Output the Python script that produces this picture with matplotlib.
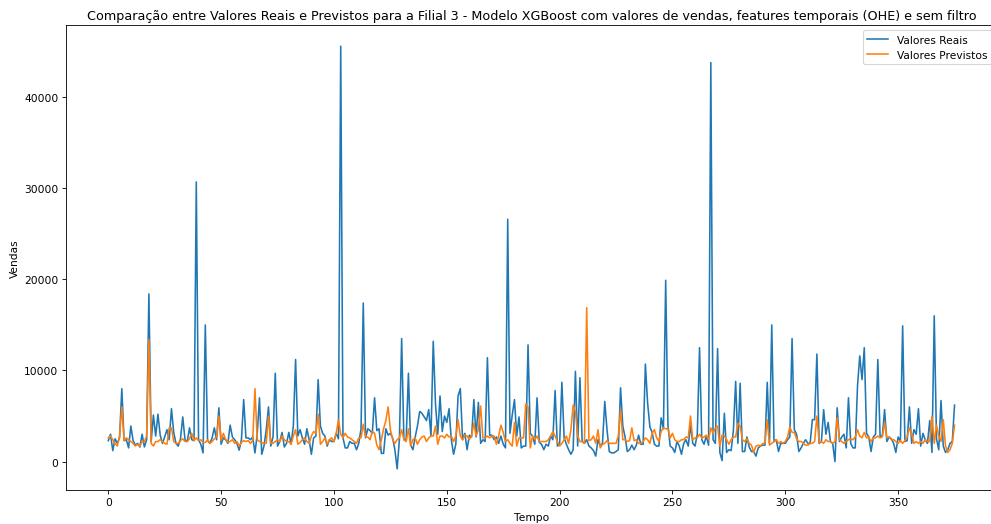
import matplotlib
matplotlib.use("Agg")
import matplotlib.pyplot as plt

# valores reais (vendas) - filial 3
valores_reais = [
    2300, 3000, 1200, 2500, 2000, 2600, 8000, 2300, 2400, 1500,
    3900, 2300, 1800, 2000, 1600, 3000, 1600, 2400, 18400, 2200,
    5100, 2800, 5200, 2900, 2000, 2700, 3500, 2400, 5800, 3200,
    2000, 1700, 2500, 4900, 2400, 2200, 3700, 2400, 2300, 30700,
    2400, 1900, 950, 15000, 2300, 2000, 2600, 3700, 2400, 5900,
    1900, 2600, 2400, 2000, 4000, 2700, 2400, 2000, 1250, 2400,
    6800, 2600, 2600, 2400, 2700, 950, 3000, 7000, 800, 1700,
    3500, 6000, 1700, 2700, 9700, 1700, 2200, 3200, 1600, 2000,
    3200, 1900, 3900, 11200, 2800, 3500, 2600, 1900, 3600, 2400,
    800, 2600, 2800, 9000, 3900, 3100, 2800, 1700, 2400, 2200,
    2200, 3100, 2500, 45600, 2600, 1500, 1500, 2200, 2000, 2000,
    1300, 2000, 3600, 17400, 2600, 3600, 3400, 3100, 7000, 3400,
    3600, 900, 900, 3600, 2900, 3100, 2600, 1300, -800, 2400,
    13500, 2400, 2400, 9700, 1800, 1300, 2700, 3900, 5500, 5300,
    4900, 4500, 5700, 2800, 13200, 6300, 3000, 7200, 3300, 5000,
    4300, 5800, 2400, 800, 1900, 7200, 8000, 2400, 3100, 1300,
    2900, 2700, 6800, 2700, 6500, 2000, 2400, 2200, 11400, 2900,
    2900, 2400, 2700, 2000, 2800, 1900, 1500, 26600, 3100, 5100,
    6800, 2800, 4900, 1500, 1700, 1700, 12800, 3100, 2800, 1900,
    7000, 2100, 1900, 1300, 1900, 1700, 2800, 2400, 7800, 1700,
    1900, 8700, 2600, 1900, 1300, 800, 1300, 9900, 1700, 9200,
    2200, 2000, 2400, 1700, 1500, 1200, 600, 2400, 1700, 2000,
    6600, 3500, 1100, 950, 950, 1100, 1300, 8100, 3900, 2700,
    1100, 1300, 1800, 1300, 1800, 2900, 1900, 1900, 10700, 6400,
    3800, 3200, 1900, 1700, 1700, 4800, 3600, 19900, 4000, 1700,
    1500, 1000, 2200, 1700, 800, 2000, 2400, 1700, 4000, 2000,
    1700, 3000, 12500, 2400, 1900, 2800, 1800, 43800, 2400, 2000,
    12400, 1000, 100, 5300, 1000, 1300, 1200, 3400, 8800, 2000,
    8600, 1100, 1100, 2700, 1600, 1100, 1100, 600, 1500, 1700,
    1800, 1800, 8700, 2000, 15000, 2200, 2400, 1100, 2000, 2000,
    2000, 2400, 2700, 13500, 3500, 3000, 1100, 1500, 2000, 2400,
    2000, 2000, 4600, 4600, 11800, 2000, 2200, 5700, 3000, 4300,
    2200, 2000, 0, 5900, 2200, 2700, 3000, 1500, 7000, 2000,
    1500, 1500, 8300, 11600, 9000, 12500, 3100, 2700, 1100, 2700,
    3000, 11200, 2800, 2800, 5700, 2200, 2700, 2500, 2000, 1000,
    2700, 2200, 14900, 2200, 2300, 6000, 2000, 3500, 3000, 5800,
    1700, 3100, 2400, 2000, 4500, 1000, 16000, 2500, 1300, 6700,
    1700, 1000, 1300, 2000, 2200, 6200,
]

# valores previstos pelo modelo XGBoost
valores_previstos = [
    2600, 2800, 2400, 2000, 1700, 2800, 6000, 2300, 2600, 2400,
    2200, 2000, 1700, 1900, 1700, 2200, 2200, 2800, 13400, 2000,
    1700, 2200, 2200, 2400, 2200, 2000, 1900, 3700, 3700, 2200,
    2000, 2000, 2300, 2500, 2200, 2200, 2500, 3100, 2300, 2600,
    2300, 2400, 2100, 2100, 2400, 2000, 2200, 2500, 2700, 5000,
    2300, 3100, 2400, 2100, 2200, 2400, 2000, 2200, 1700, 2100,
    2300, 2200, 2300, 2000, 2300, 8000, 2400, 2200, 2100, 2000,
    2000, 5000, 2000, 2000, 2200, 2400, 2200, 2800, 2400, 2200,
    2200, 1900, 2800, 3500, 1900, 2100, 2400, 2600, 2200, 2000,
    2800, 3300, 3100, 5200, 1900, 2200, 2600, 1900, 2400, 2600,
    2200, 3100, 4600, 3000, 2600, 3100, 2700, 2600, 2400, 2200,
    2000, 2600, 2600, 4100, 2700, 2700, 2400, 3300, 3100, 1800,
    1300, 2400, 3600, 4500, 6000, 3500, 2400, 2000, 2400, 2600,
    3500, 2400, 2200, 3600, 1700, 2400, 2600, 1900, 2400, 2700,
    2800, 2200, 2600, 2800, 2800, 3900, 1900, 2800, 2800, 2600,
    3000, 2700, 2800, 2200, 2800, 4600, 2800, 2400, 2900, 2800,
    2400, 2900, 4200, 2800, 3500, 6100, 2600, 2600, 2800, 2600,
    2800, 2800, 1900, 2800, 4000, 3200, 2200, 2400, 2000, 1700,
    4300, 1700, 2600, 2600, 2600, 6300, 6000, 1500, 2800, 2400,
    2800, 2200, 2200, 2200, 2200, 2400, 2800, 3300, 2800, 2200,
    1700, 2000, 2400, 2800, 2000, 3500, 6200, 5500, 2800, 2200,
    2200, 2000, 16900, 2300, 2400, 2800, 2000, 3500, 1500, 1900,
    2000, 2300, 2000, 2000, 2000, 2000, 2800, 5700, 2400, 2400,
    2200, 2300, 3700, 2300, 2400, 2000, 2000, 2200, 2600, 2400,
    2000, 3100, 3500, 2600, 2200, 3300, 3700, 3600, 3600, 2600,
    3100, 2400, 2200, 2200, 2400, 2400, 2700, 2600, 5000, 2400,
    2600, 2600, 3000, 2600, 2700, 2900, 2400, 3700, 3100, 3700,
    3900, 1700, 2900, 2800, 2400, 1900, 2400, 2700, 2700, 4200,
    3900, 2400, 2200, 2500, 2000, 1800, 1000, 1700, 1800, 1700,
    2000, 2000, 4600, 1800, 2000, 2200, 2400, 2000, 2200, 2000,
    2200, 2700, 3800, 3200, 3200, 2500, 2200, 2200, 2000, 1800,
    1800, 2000, 2000, 2200, 5000, 2100, 2200, 2000, 2400, 2200,
    2200, 2000, 2200, 4800, 2400, 2200, 2000, 2200, 2400, 2500,
    2400, 2700, 3500, 2800, 2600, 3200, 2600, 2700, 2200, 2600,
    2600, 2800, 2600, 2700, 4300, 2600, 2700, 2400, 2400, 2200,
    2000, 2300, 2000, 2300, 2700, 3700, 3000, 2000, 2200, 2000,
    2200, 2000, 2400, 2200, 2200, 5000, 2000, 4000, 2800, 2200,
    4600, 1700, 1000, 1300, 2000, 4000,
]

tempo = list(range(len(valores_reais)))

# figura original maior (13x6.9) reduzida para ~992x525
fig = plt.figure(figsize=(13.0, 6.88), dpi=76.3)
# eixo passa um pouco da borda direita (imagem original recortada)
ax = fig.add_axes([0.0665, 0.0648, 0.9385, 0.8857])
ax.plot(tempo, valores_reais, label="Valores Reais")
ax.plot(tempo, valores_previstos, label="Valores Previstos")
ax.set_xlabel("Tempo")
ax.set_ylabel("Vendas")
ax.set_title("Comparação entre Valores Reais e Previstos para a Filial 3 - "
             "Modelo XGBoost com valores de vendas, features temporais (OHE) e sem filtro")
ax.legend(loc="upper right")
fig.savefig("out.png", dpi=76.3)
